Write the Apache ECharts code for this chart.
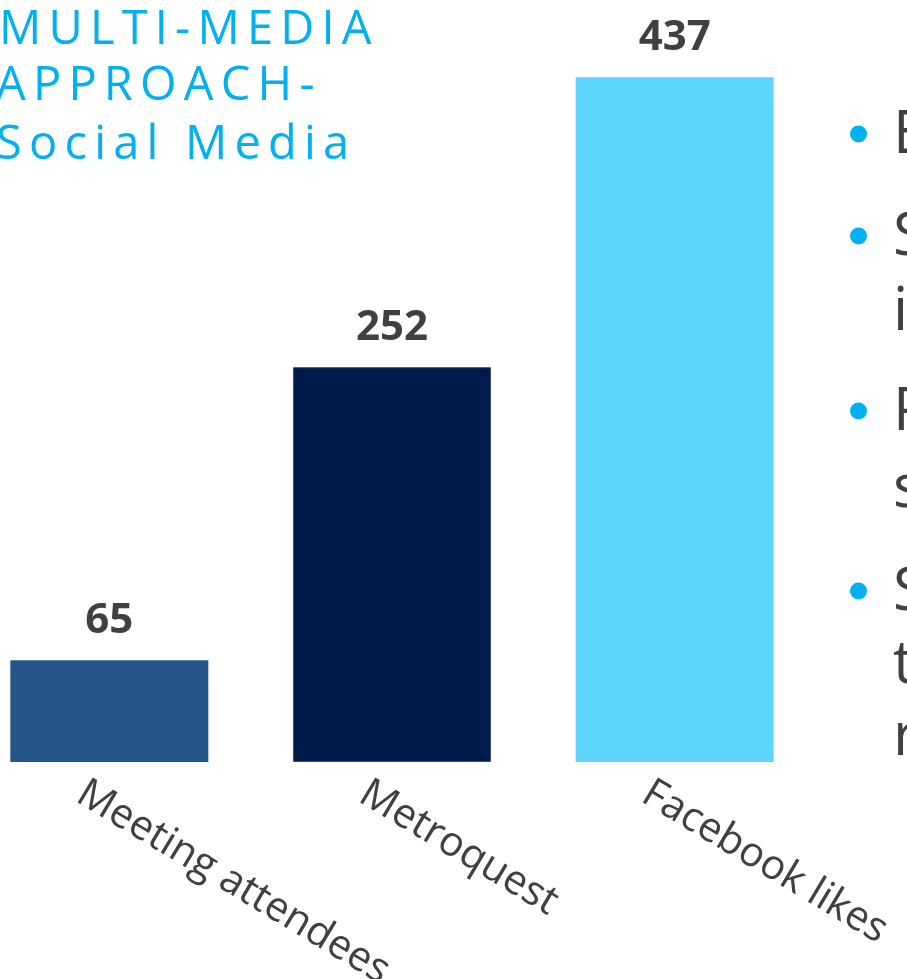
<!DOCTYPE html>
<html>
<head>
<meta charset="utf-8">
<script src="https://cdn.jsdelivr.net/npm/echarts@6/dist/echarts.min.js"></script>
<style>
html,body{margin:0;padding:0;background:#fff;}
#chart{width:907px;height:979px;}
</style>
</head>
<body>
<div id="chart"></div>
<script>
// ---- data ----
const categories = ['Meeting attendees', 'Metroquest', 'Facebook likes'];
const values = [65, 252, 437];
const barColors = ['#245488', '#001a4a', '#5dd5ff'];
const titleLines = ['MULTI-MEDIA', 'APPROACH-', 'Social Media'];
// visible (clipped) starts of the slide's bullet text
const bulletGroups = [['E'], ['S', 'i'], ['P', 's'], ['S', 't', 'r']];

// ---- layout ----
const FONT = '"Open Sans", "DejaVu Sans", sans-serif';
const chart = echarts.init(document.getElementById('chart'), null, {renderer: 'canvas'});

const measureCtx = document.createElement('canvas').getContext('2d');
function spacedText(str, x0, yMid, size, spacing, color) {
  measureCtx.font = size + 'px "Open Sans"';
  const els = [];
  let x = x0;
  for (const ch of str) {
    els.push({type: 'text', x: x, y: yMid, style: {text: ch, fill: color, font: size + 'px ' + FONT, verticalAlign: 'middle', align: 'left'}});
    x += measureCtx.measureText(ch).width + spacing;
  }
  return els;
}

const graphics = [];
const titleSize = 47;
const titleX = [-1, -4, -4];
const titleBase = [48, 104, 163];
titleLines.forEach((t, i) => {
  graphics.push(...spacedText(t, titleX[i], titleBase[i] - titleSize * 0.36, titleSize, 7.2, '#00b0f0'));
});

const bulletSize = 60;
const baselines = [158, 260, 335, 435, 512, 615, 688, 760];
let li = 0;
bulletGroups.forEach(group => {
  group.forEach((txt, j) => {
    const yb = baselines[li++];
    if (j === 0) {
      graphics.push({type: 'circle', shape: {cx: 858.5, cy: yb - 24, r: 8.5}, style: {fill: '#00b0f0'}});
    }
    graphics.push({type: 'text', x: 893, y: yb - bulletSize * 0.36, style: {text: txt, fill: '#404040', font: bulletSize + 'px ' + FONT, verticalAlign: 'middle', align: 'left'}});
  });
});

const option = {
  backgroundColor: '#ffffff',
  animation: false,
  grid: {left: -32, right: 91, top: 10, bottom: 217, containLabel: false, outerBoundsMode: 'none'},
  xAxis: {
    type: 'category',
    data: categories,
    axisLine: {show: false},
    axisTick: {show: false},
    axisLabel: {
      rotate: -31,
      interval: 0,
      fontSize: 41,
      fontFamily: FONT,
      color: '#404040',
      margin: 46,
      padding: [0, 0, 0, -34]
    }
  },
  yAxis: {type: 'value', min: 0, max: 480, show: false},
  series: [{
    type: 'bar',
    barWidth: 198,
    data: values.map((v, i) => ({
      value: v,
      itemStyle: {color: barColors[i], borderColor: i === 1 ? '#3d4e73' : barColors[i], borderWidth: i === 1 ? 1 : 0}
    })),
    label: {
      show: true,
      position: 'top',
      distance: 18,
      fontSize: 42,
      fontWeight: 'bold',
      fontFamily: FONT,
      color: '#404040'
    }
  }],
  graphic: graphics
};
chart.setOption(option);
</script>
</body>
</html>
